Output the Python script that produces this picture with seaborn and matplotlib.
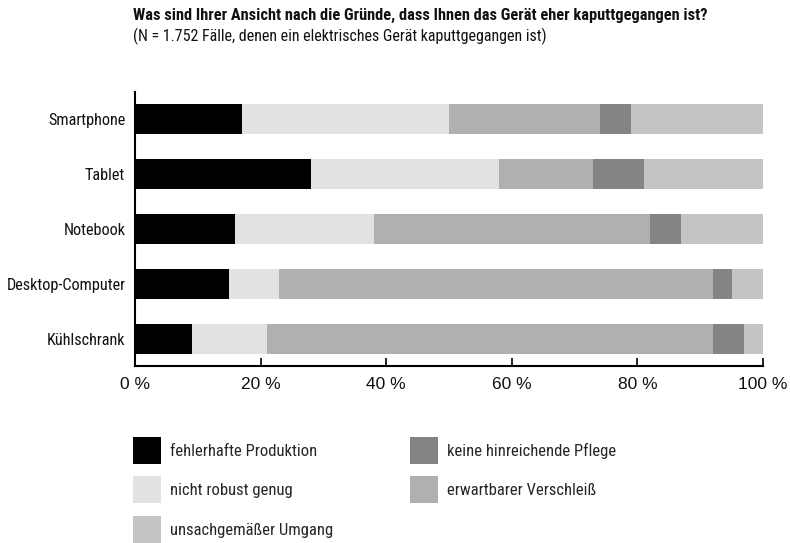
import numpy as np
import pandas as pd
import matplotlib
matplotlib.use("Agg")
import matplotlib.pyplot as plt
import seaborn as sns
from matplotlib.patches import Patch

categories = ["Smartphone", "Tablet", "Notebook", "Desktop-Computer", "Kühlschrank"]
fehlerhafte_produktion = [17, 28, 16, 15, 9]
nicht_robust_genug = [33, 30, 22, 8, 12]
erwartbarer_verschleiss = [24, 15, 44, 69, 71]
keine_pflege = [5, 8, 5, 3, 5]
unsachgemaesser_umgang = [21, 19, 13, 5, 3]
x_ticks = [0, 20, 40, 60, 80, 100]

series_names = ["fehlerhafte Produktion", "nicht robust genug", "erwartbarer Verschleiß",
                "keine hinreichende Pflege", "unsachgemäßer Umgang"]
series_vals = [fehlerhafte_produktion, nicht_robust_genug, erwartbarer_verschleiss,
               keine_pflege, unsachgemaesser_umgang]
colors = {"fehlerhafte Produktion": "#000000",
          "nicht robust genug": "#e2e2e2",
          "erwartbarer Verschleiß": "#b0b0b0",
          "keine hinreichende Pflege": "#848484",
          "unsachgemäßer Umgang": "#c4c4c4"}

sns.set_theme(style="white")
COND = ['Roboto Condensed', 'Liberation Sans', 'DejaVu Sans']
plt.rcParams['font.family'] = COND

fig = plt.figure(figsize=(7.9, 5.43), dpi=100)
ax = fig.add_axes([135/790, 1-366/543, (763-135)/790, (366-92)/543])

cum = np.cumsum(np.array(series_vals), axis=0)
df = pd.DataFrame({"Kategorie": categories})
for i in range(len(series_names) - 1, -1, -1):
    df["val"] = cum[i]
    sns.barplot(data=df, x="val", y="Kategorie", order=categories, orient="h",
                color=colors[series_names[i]], width=0.545, ax=ax,
                saturation=1, edgecolor="none", linewidth=0)

ax.set_xlim(0, 100)
ax.set_ylim(4.5, -0.5)
ax.set_xlabel("")
ax.set_ylabel("")
ax.set_xticks(x_ticks)
ax.set_xticklabels([f"{t} %" for t in x_ticks], family=['Liberation Sans', 'DejaVu Sans'],
                   fontsize=12.5, color="#111111")
ax.tick_params(axis="x", direction="in", length=6, width=1.2, color="black", pad=8, bottom=True)
ax.tick_params(axis="y", length=0, pad=7, labelsize=11.7, labelcolor="#111111")
for s in ["top", "right"]:
    ax.spines[s].set_visible(False)
for s in ["left", "bottom"]:
    ax.spines[s].set_color("black")
    ax.spines[s].set_linewidth(1.5)

fig.text(133/790, 1-20/543, "Was sind Ihrer Ansicht nach die Gründe, dass Ihnen das Gerät eher kaputtgegangen ist?",
         fontsize=11.75, fontweight="bold", va="baseline", ha="left", color="#111111")
fig.text(133/790, 1-41/543, "(N = 1.752 Fälle, denen ein elektrisches Gerät kaputtgegangen ist)",
         fontsize=11.5, va="baseline", ha="left", color="#111111")

legend_order = ["fehlerhafte Produktion", "nicht robust genug", "unsachgemäßer Umgang",
                "keine hinreichende Pflege", "erwartbarer Verschleiß"]
handles = [Patch(facecolor=colors[n], edgecolor="none") for n in legend_order]
fig.legend(handles, legend_order, ncol=2, loc="upper left",
           bbox_to_anchor=(133/790, 1-437/543), frameon=False,
           fontsize=12.0, handlelength=1.68, handleheight=2.115,
           labelspacing=0.75, handletextpad=0.54, columnspacing=4.62,
           borderpad=0, borderaxespad=0)

fig.savefig("out.png", dpi=100)
